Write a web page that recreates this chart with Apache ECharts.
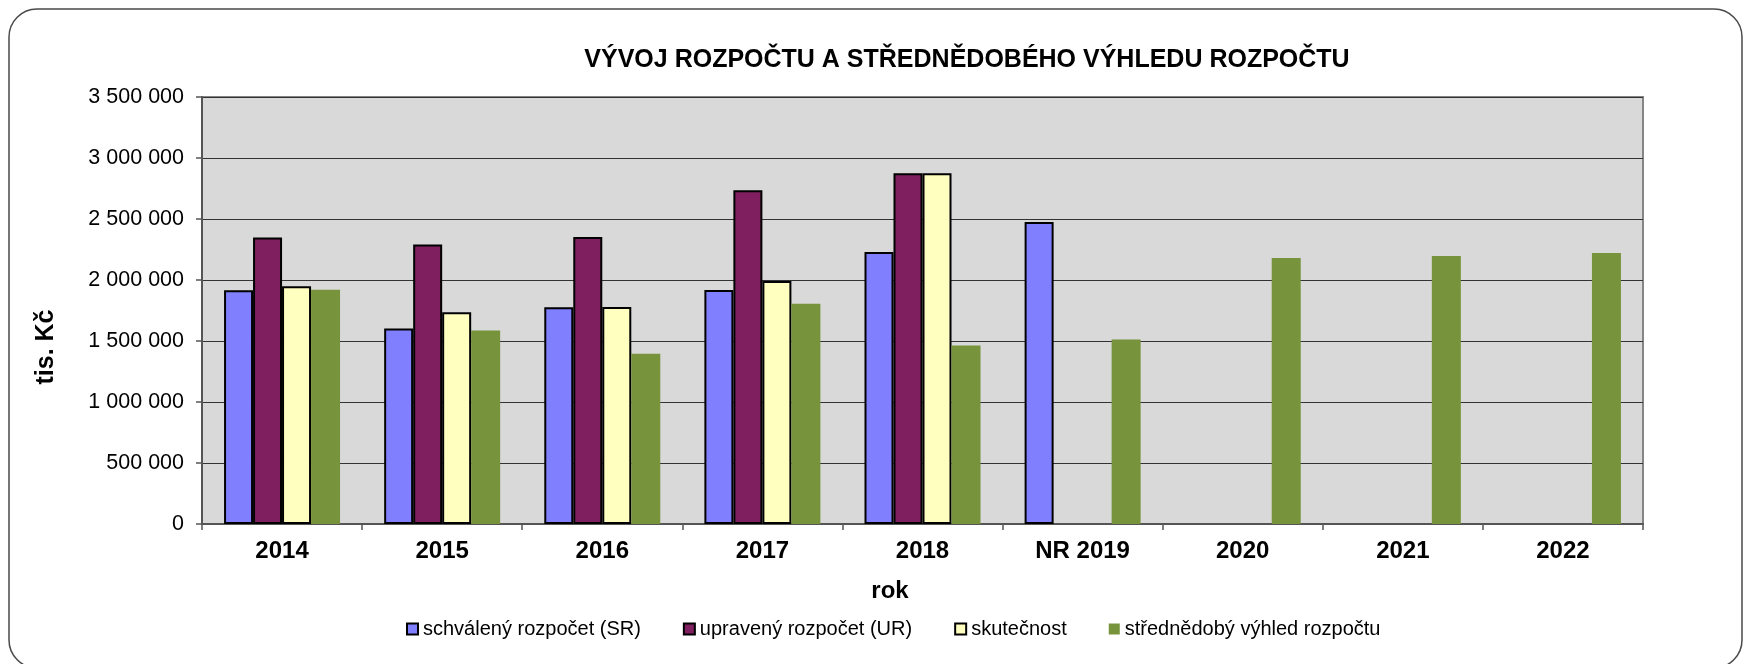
<!DOCTYPE html>
<html>
<head>
<meta charset="utf-8">
<script src="https://cdn.jsdelivr.net/npm/echarts@6/dist/echarts.min.js"></script>
<style>
html,body{margin:0;padding:0;background:#fff;}
#chart{width:1750px;height:664px;}
</style>
</head>
<body>
<div id="chart"></div>
<script>
// ---- data ----
const categories = ['2014', '2015', '2016', '2017', '2018', 'NR 2019', '2020', '2021', '2022'];
const seriesNames = ['schválený rozpočet (SR)', 'upravený rozpočet (UR)', 'skutečnost', 'střednědobý výhled rozpočtu'];
const schvalenyRozpocet = [1915000, 1603000, 1776000, 1918000, 2229000, 2475000, null, null, null];
const upravenyRozpocet = [2349000, 2292000, 2352000, 2735000, 2874000, null, null, null, null];
const skutecnost = [1948000, 1735000, 1778000, 1992000, 2874000, null, null, null, null];
const strednedobyVyhled = [1920000, 1587000, 1396000, 1806000, 1464000, 1513000, 2180000, 2197000, 2221000];
const yTickValues = [0, 500000, 1000000, 1500000, 2000000, 2500000, 3000000, 3500000];
const titleText = 'VÝVOJ ROZPOČTU A STŘEDNĚDOBÉHO VÝHLEDU ROZPOČTU';
const yAxisTitle = 'tis. Kč';
const xAxisTitle = 'rok';

// ---- chart ----
const FONT = '"Liberation Sans", Arial, sans-serif';
const colors = ['#8080FF', '#7F1F5F', '#FFFFC0', '#77933C'];
const seriesData = [schvalenyRozpocet, upravenyRozpocet, skutecnost, strednedobyVyhled];

function fmt(v) {
  return String(v).replace(/\B(?=(\d{3})+(?!\d))/g, ' ');
}

const chart = echarts.init(document.getElementById('chart'), null, { renderer: 'canvas' });

const series = seriesNames.map((name, i) => ({
  name: name,
  type: 'bar',
  data: seriesData[i],
  barWidth: 29,
  barGap: '0%',
  itemStyle: i < 3
    ? { color: colors[i], borderColor: '#000', borderWidth: 2 }
    : { color: colors[i], borderWidth: 0 },
  emphasis: { disabled: true },
  animation: false
}));

chart.setOption({
  animation: false,
  title: {
    text: titleText,
    left: 962,
    top: 43,
    textAlign: 'center',
    textStyle: { fontFamily: FONT, fontSize: 25, fontWeight: 'bold', color: '#000' }
  },
  legend: {
    data: seriesNames.map((n, i) => ({
      name: n,
      icon: 'rect',
      itemStyle: i < 3 ? { color: colors[i], borderColor: '#000', borderWidth: 2 } : { color: colors[i], borderWidth: 0 }
    })),
    left: 406,
    top: 619,
    padding: 0,
    itemWidth: 11,
    itemHeight: 11,
    itemGap: 42,
    textStyle: { fontFamily: FONT, fontSize: 20, color: '#000' }
  },
  grid: {
    left: 202,
    right: 107,
    top: 97,
    bottom: 140,
    show: true,
    backgroundColor: '#D9D9D9',
    borderColor: '#858585',
    borderWidth: 2
  },
  xAxis: {
    type: 'category',
    data: categories,
    axisLine: { lineStyle: { color: '#555', width: 2 } },
    axisTick: { show: true, length: 6, lineStyle: { color: '#555', width: 1.5 } },
    axisLabel: { margin: 15, fontFamily: FONT, fontSize: 24, fontWeight: 'bold', color: '#000' },
    splitLine: { show: false }
  },
  yAxis: {
    type: 'value',
    min: yTickValues[0],
    max: yTickValues[yTickValues.length - 1],
    interval: yTickValues[1] - yTickValues[0],
    axisLine: { show: true, lineStyle: { color: '#555', width: 2 } },
    axisTick: { show: true, length: 6, lineStyle: { color: '#555', width: 1.5 } },
    axisLabel: { margin: 18, fontFamily: FONT, fontSize: 21.5, color: '#000', formatter: fmt },
    splitLine: { show: true, lineStyle: { color: '#333', width: 1.2 } }
  },
  graphic: [
    {
      type: 'rect',
      shape: { x: 9, y: 9, width: 1733, height: 659, r: 28 },
      style: { fill: 'none', stroke: '#4a4a4a', lineWidth: 1.5 },
      silent: true,
      z: -10
    },
    {
      type: 'text',
      x: 46,
      y: 347,
      rotation: Math.PI / 2,
      style: {
        text: yAxisTitle, fontFamily: FONT, fontSize: 25, fontWeight: 'bold', fill: '#000',
        align: 'center', verticalAlign: 'middle'
      }
    },
    {
      type: 'text',
      x: 890,
      y: 591,
      style: {
        text: xAxisTitle, fontFamily: FONT, fontSize: 24, fontWeight: 'bold', fill: '#000',
        align: 'center', verticalAlign: 'middle'
      }
    }
  ],
  series: series
});
</script>
</body>
</html>
